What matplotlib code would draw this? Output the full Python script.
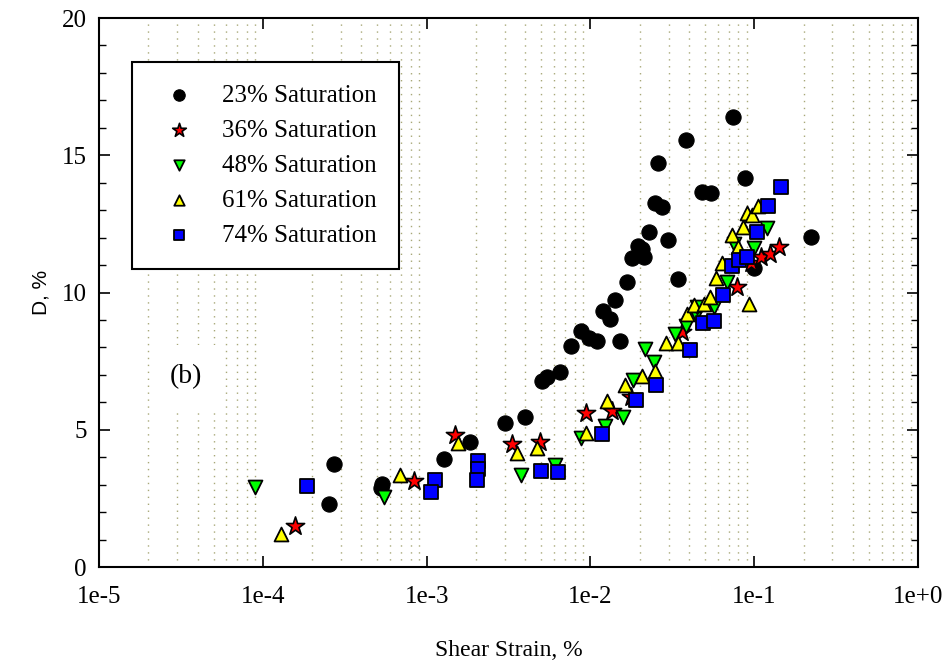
import matplotlib
matplotlib.use("Agg")
import matplotlib.pyplot as plt
from matplotlib.ticker import LogLocator, MultipleLocator, FixedLocator

# 23% saturation
s23_x = [2.71e-4, 2.52e-4, 5.32e-4, 5.25e-4, 1.27e-3, 1.83e-3, 3.03e-3, 3.96e-3,
         5.09e-3, 5.4e-3, 6.56e-3, 7.66e-3, 8.7e-3, 9.86e-3, 1.09e-2, 1.2e-2,
         1.31e-2, 1.42e-2, 1.52e-2, 1.68e-2, 1.8e-2, 1.94e-2, 2.07e-2, 2.13e-2,
         2.29e-2, 2.49e-2, 2.75e-2, 2.6e-2, 2.99e-2, 3.44e-2, 3.85e-2, 4.82e-2,
         5.47e-2, 7.45e-2, 8.8e-2, 0.1, 0.223]
s23_y = [3.75, 2.3, 3.02, 2.88, 3.93, 4.55, 5.25, 5.46,
         6.78, 6.92, 7.1, 8.05, 8.6, 8.34, 8.23, 9.33,
         9.03, 9.73, 8.23, 10.38, 11.26, 11.69, 11.58, 11.3,
         12.2, 13.26, 13.1, 14.7, 11.9, 10.49, 15.56, 13.66,
         13.62, 16.4, 14.17, 10.9, 12.02]

# 36% saturation
s36_x = [1.57e-4, 8.34e-4, 1.5e-3, 3.34e-3, 4.89e-3, 9.46e-3, 1.36e-2, 1.78e-2,
         3.64e-2, 7.87e-2, 9.55e-2, 0.110, 0.125, 0.142]
s36_y = [1.49, 3.13, 4.81, 4.48, 4.55, 5.61, 5.68, 6.19,
         8.56, 10.2, 11.07, 11.29, 11.4, 11.66]

# 48% saturation
s48_x = [8.93e-5, 5.47e-4, 3.79e-3, 6.12e-3, 8.8e-3, 1.22e-2, 1.57e-2, 1.83e-2,
         2.16e-2, 2.45e-2, 3.3e-2, 3.85e-2, 4.43e-2, 4.49e-2, 5.7e-2, 6.84e-2,
         7.55e-2, 0.1, 0.12]
s48_y = [2.91, 2.55, 3.35, 3.72, 4.7, 5.14, 5.46, 6.81,
         7.94, 7.47, 8.49, 8.78, 9.18, 9.47, 9.47, 10.38,
         11.77, 11.62, 12.35]

# 61% saturation
s61_x = [1.29e-4, 6.84e-4, 1.55e-3, 3.54e-3, 4.69e-3, 9.46e-3, 1.27e-2, 1.63e-2,
         2.07e-2, 2.49e-2, 2.9e-2, 3.44e-2, 3.9e-2, 4.3e-2, 4.95e-2, 5.4e-2,
         5.86e-2, 6.38e-2, 7.35e-2, 7.98e-2, 8.57e-2, 9.05e-2, 9.73e-2, 0.106,
         9.33e-2]
s61_y = [1.2, 3.35, 4.52, 4.15, 4.34, 4.88, 6.05, 6.63,
         6.96, 7.14, 8.16, 8.16, 9.22, 9.54, 9.58, 9.84,
         10.53, 11.07, 12.09, 11.66, 12.39, 12.9, 12.82, 13.15,
         9.58]

# 74% saturation
s74_x = [1.85e-4, 1.12e-3, 1.07e-3, 2.05e-3, 2.05e-3, 2.02e-3, 5.02e-3, 6.3e-3,
         1.17e-2, 1.9e-2, 2.52e-2, 4.07e-2, 4.89e-2, 5.7e-2, 6.47e-2, 7.35e-2,
         8.11e-2, 9.05e-2, 0.104, 0.122, 0.146]
s74_y = [2.95, 3.17, 2.73, 3.86, 3.57, 3.17, 3.5, 3.46,
         4.85, 6.08, 6.63, 7.9, 8.89, 8.96, 9.91, 10.97,
         11.18, 11.29, 12.2, 13.15, 13.84]

labels = ["23% Saturation", "36% Saturation", "48% Saturation",
          "61% Saturation", "74% Saturation"]

serif = "Liberation Serif"

fig = plt.figure(figsize=(9.46, 6.62), dpi=100)
ax = fig.add_axes([0.1047, 0.1435, 0.8657, 0.8293])

ax.scatter(s23_x, s23_y, s=120, marker="o", c="black", edgecolors="black",
           linewidths=0.8, label=labels[0], zorder=3)
ax.scatter(s36_x, s36_y, s=190, marker="*", c="red", edgecolors="black",
           linewidths=1.2, label=labels[1], zorder=3)
ax.scatter(s48_x, s48_y, s=100, marker="v", c="#00ff00", edgecolors="black",
           linewidths=1.3, label=labels[2], zorder=3)
ax.scatter(s61_x, s61_y, s=100, marker="^", c="yellow", edgecolors="black",
           linewidths=1.3, label=labels[3], zorder=3)
ax.scatter(s74_x, s74_y, s=95, marker="s", c="#0000ff", edgecolors="black",
           linewidths=1.3, label=labels[4], zorder=3)

ax.set_xscale("log")
ax.set_xlim(1e-5, 1)
ax.set_ylim(0, 20)

ax.xaxis.set_major_locator(FixedLocator([1e-5, 1e-4, 1e-3, 1e-2, 1e-1, 1]))
ax.set_xticklabels(["1e-5", "1e-4", "1e-3", "1e-2", "1e-1", "1e+0"])
ax.xaxis.set_minor_locator(LogLocator(base=10, subs=range(2, 10), numticks=20))
ax.yaxis.set_major_locator(MultipleLocator(5))
ax.yaxis.set_minor_locator(MultipleLocator(1))

ax.grid(True, which="minor", axis="x", color="#a8a878",
        linestyle=(0, (1, 4)), linewidth=1.0, zorder=0)
ax.set_axisbelow(True)

ax.tick_params(axis="both", which="both", direction="in", top=True, right=True,
               labelsize=18)
ax.tick_params(axis="x", which="major", pad=14)
ax.tick_params(axis="y", which="major", pad=9)
ax.tick_params(axis="x", which="minor", length=0)
ax.tick_params(axis="both", which="major", length=8, width=1.2)
ax.tick_params(axis="y", which="minor", length=5, width=1.0)
for lab in ax.get_xticklabels() + ax.get_yticklabels():
    lab.set_fontfamily(serif)
for sp in ax.spines.values():
    sp.set_linewidth(1.5)

ax.set_xlabel("Shear Strain, %", fontsize=17, family=serif, labelpad=23)
ax.set_ylabel("D, %", fontsize=15, family="Liberation Sans", labelpad=8)

ax.text(0.106, 0.346, "(b)", transform=ax.transAxes, fontsize=20,
        family=serif, ha="center", va="center", zorder=2,
        bbox=dict(facecolor="white", edgecolor="none", pad=14))

leg = ax.legend(loc="upper left", bbox_to_anchor=(0.04, 0.92),
                prop={"family": serif, "size": 18}, frameon=True,
                fancybox=False, edgecolor="black", framealpha=1,
                borderpad=0.9, labelspacing=0.5, handletextpad=0.7,
                borderaxespad=0, markerscale=0.75, scatterpoints=1)
leg.get_frame().set_linewidth(1.5)
leg.set_zorder(4)

fig.savefig("out.png", dpi=100)
